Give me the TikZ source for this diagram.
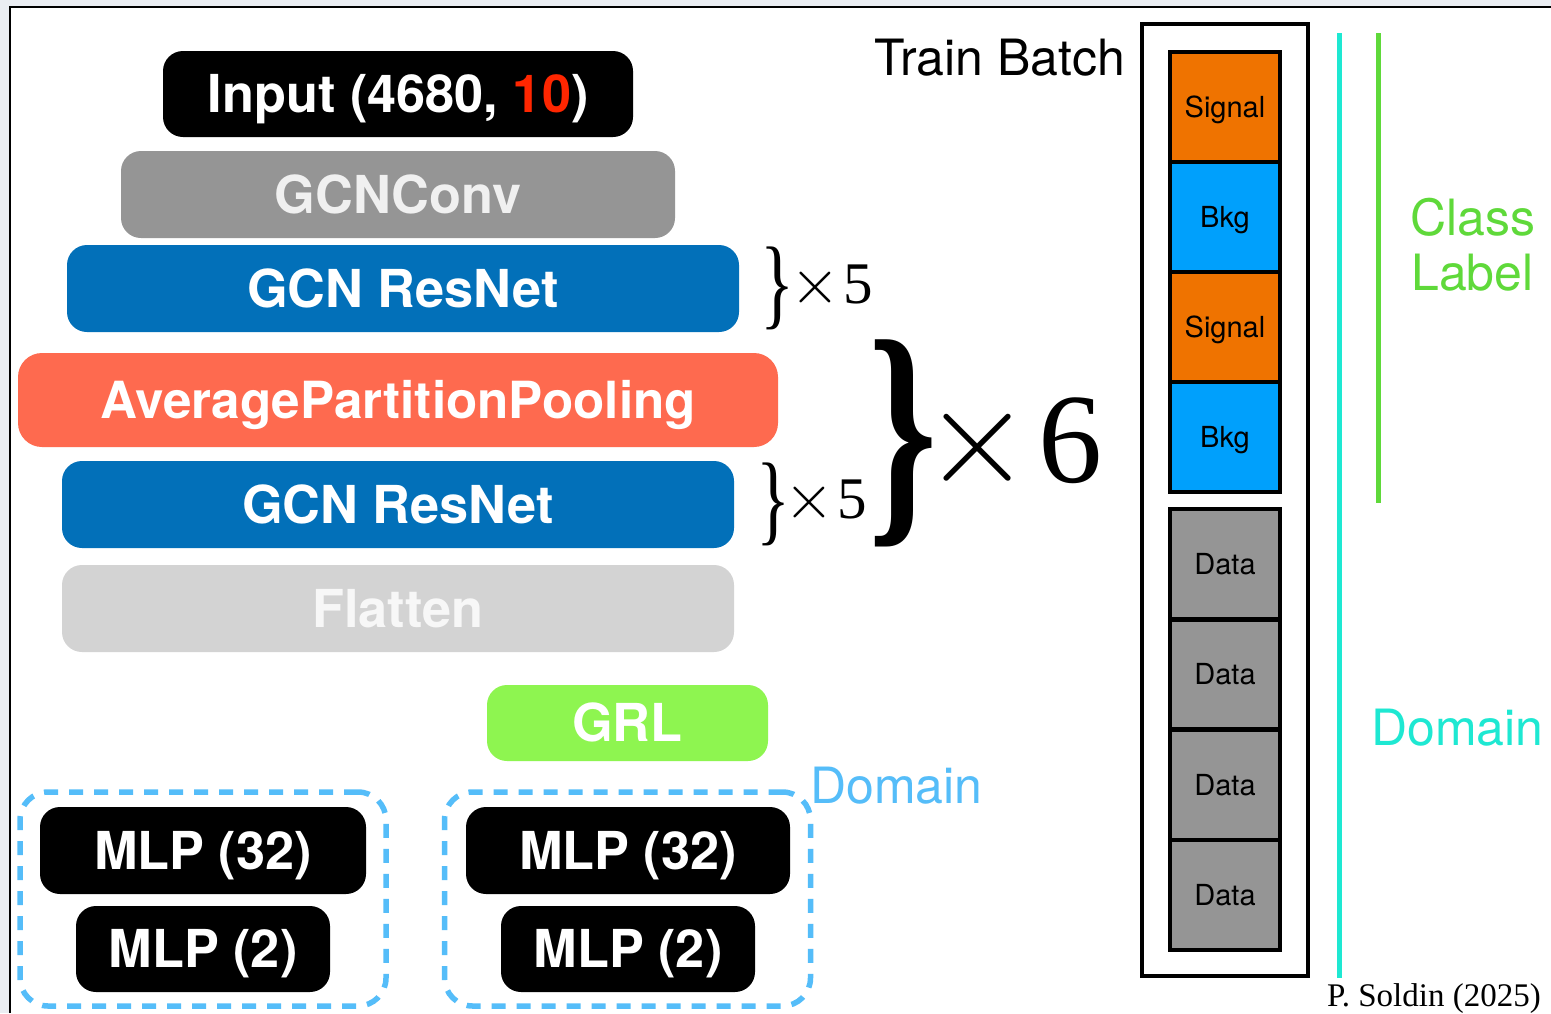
\documentclass[tikz,border=0pt]{standalone}
\usepackage{fontspec}
\setmainfont{TeX Gyre Heros}
\newfontfamily\serifface{Liberation Serif}
\usepackage{graphicx}

\definecolor{pagebg}{RGB}{234,237,242}
\definecolor{convgray}{RGB}{149,149,149}
\definecolor{resblue}{RGB}{2,112,185}
\definecolor{poolred}{RGB}{254,106,79}
\definecolor{flatgray}{RGB}{211,211,211}
\definecolor{grlgreen}{RGB}{142,245,80}
\definecolor{dashblue}{RGB}{85,189,249}
\definecolor{numred}{RGB}{255,38,0}
\definecolor{sigorange}{RGB}{239,115,0}
\definecolor{bkgblue}{RGB}{0,160,252}
\definecolor{datagray}{RGB}{149,149,149}
\definecolor{domcyan}{RGB}{30,232,210}
\definecolor{classgreen}{RGB}{95,217,58}

\tikzset{
  layer/.style={rectangle, rounded corners=20pt, inner sep=0pt, text=white,
    font=\fontsize{52.3}{60}\selectfont\bfseries, text height=37.5pt, text depth=0pt},
  mlp/.style={layer, fill=black, minimum height=87pt},
  domainbox/.style={rectangle, draw=dashblue, line width=5.5pt, rounded corners=28pt,
    dash pattern=on 14pt off 11pt, minimum width=366pt, minimum height=214pt},
  cell/.style={rectangle, draw=black, line width=4.5pt, minimum width=110pt,
    minimum height=110pt, inner sep=0pt, font=\fontsize{29}{34}\selectfont,
    text height=20.8pt, text depth=0pt},
  label/.style={anchor=base west, inner sep=0pt, font=\fontsize{50}{58}\selectfont},
  brace/.style={inner sep=0pt, font=\serifface},
  times/.style={anchor=base west, inner sep=0pt}
}

\begin{document}
\begin{tikzpicture}[x=1pt, y=-1pt]
\useasboundingbox (0,0) rectangle (1551,1013);

% page and framed panel
\fill[pagebg] (0,0) rectangle (1551,1013);
\fill[white] (10,7) rectangle (1551,1013);
\draw[line width=2.5pt] (10,1013) -- (10,7) -- (1551,7);

% network layers
\node[layer, fill=black, minimum width=470pt, minimum height=86pt] (input) at (398,94)
  {Input (4680, {\color{numred}10})};
\node[layer, fill=convgray, text=white!94!black, minimum width=554pt, minimum height=87pt] (conv) at (398,194.5) {GCNConv};
\node[layer, fill=resblue, minimum width=672pt, minimum height=87pt] (res1) at (403,288.5) {GCN ResNet};
\node[layer, fill=poolred, minimum width=760pt, minimum height=94pt, rounded corners=24pt,
  font=\fontsize{51.2}{60}\selectfont\bfseries] (pool) at (398,400) {AveragePartitionPooling};
\node[layer, fill=resblue, minimum width=672pt, minimum height=87pt] (res2) at (398,504.5) {GCN ResNet};
\node[layer, fill=flatgray, text=white!97!black, minimum width=672pt, minimum height=87pt] (flat) at (398,608.5) {Flatten};
\node[layer, fill=grlgreen, minimum width=281pt, minimum height=76pt] (grl) at (627.5,723) {GRL};

% repetition braces and counts
\node[brace] (br1) at (777.5,288.5) {\makebox[24pt]{\resizebox*{34pt}{83pt}{\}}}};
\node[times] (rep1) at (797,303) {\hspace{-7pt}\scalebox{6.4}{$\times$}\hspace{4pt}{\serifface\fontsize{59}{66}\selectfont 5}};
\node[brace] (br2) at (773.5,504) {\makebox[24pt]{\resizebox*{34pt}{83pt}{\}}}};
\node[times] (rep2) at (791,518) {\hspace{-7pt}\scalebox{6.4}{$\times$}\hspace{4pt}{\serifface\fontsize{59}{66}\selectfont 5}};
\node[brace, font=\serifface\bfseries] (br3) at (903,443.5) {\makebox[56pt]{\resizebox*{69pt}{207pt}{\}}}};
\node[times] (rep3) at (940,482) {\hspace{-17pt}\scalebox{13.9}{$\times$}\hspace{7pt}{\serifface\fontsize{128}{136}\selectfont 6}};

% classifier and domain heads
\node[domainbox] (headA) at (203,899) {};
\node[domainbox] (headB) at (627.5,899) {};
\node[mlp, minimum width=326pt] (a32) at (203,850.5) {MLP (32)};
\node[mlp, minimum width=254pt, minimum height=86pt] (a2) at (203,949) {MLP (2)};
\node[mlp, minimum width=324pt] (b32) at (628,850.5) {MLP (32)};
\node[mlp, minimum width=254pt, minimum height=86pt] (b2) at (628,949) {MLP (2)};
\node[label, text=dashblue] (domtag) at (810,803) {Domain};

% training batch
\node[label] (batchtitle) at (874,75) {Train Batch};
\node[rectangle, draw=black, line width=4pt, minimum width=166pt, minimum height=952pt, inner sep=0pt] (batch) at (1225,500) {};
\node[cell, fill=sigorange] (s1) at (1225,107) {Signal};
\node[cell, fill=bkgblue] (k1) at (1225,217) {Bkg};
\node[cell, fill=sigorange] (s2) at (1225,327) {Signal};
\node[cell, fill=bkgblue] (k2) at (1225,437) {Bkg};
\node[cell, fill=datagray] (d1) at (1225,564) {Data};
\node[cell, fill=datagray] (d2) at (1225,674.5) {Data};
\node[cell, fill=datagray] (d3) at (1225,785) {Data};
\node[cell, fill=datagray] (d4) at (1225,895) {Data};

% label ranges
\coordinate (domtop) at (1339,33);
\coordinate (dombot) at (1339,978);
\coordinate (clstop) at (1378,33);
\coordinate (clsbot) at (1378,503);
\draw[domcyan, line width=5pt] (domtop) -- (dombot);
\draw[classgreen, line width=5pt] (clstop) -- (clsbot);
\node[label, text=classgreen] (cls1) at (1410,235) {Class};
\node[label, text=classgreen] (cls2) at (1411,290) {Label};
\node[label, text=domcyan] (domright) at (1371,745) {Domain};

% credit
\node[anchor=base west, inner sep=0pt, font=\serifface\fontsize{33}{38}\selectfont] (credit) at (1327,1006) {P. Soldin (2025)};
\end{tikzpicture}
\end{document}
